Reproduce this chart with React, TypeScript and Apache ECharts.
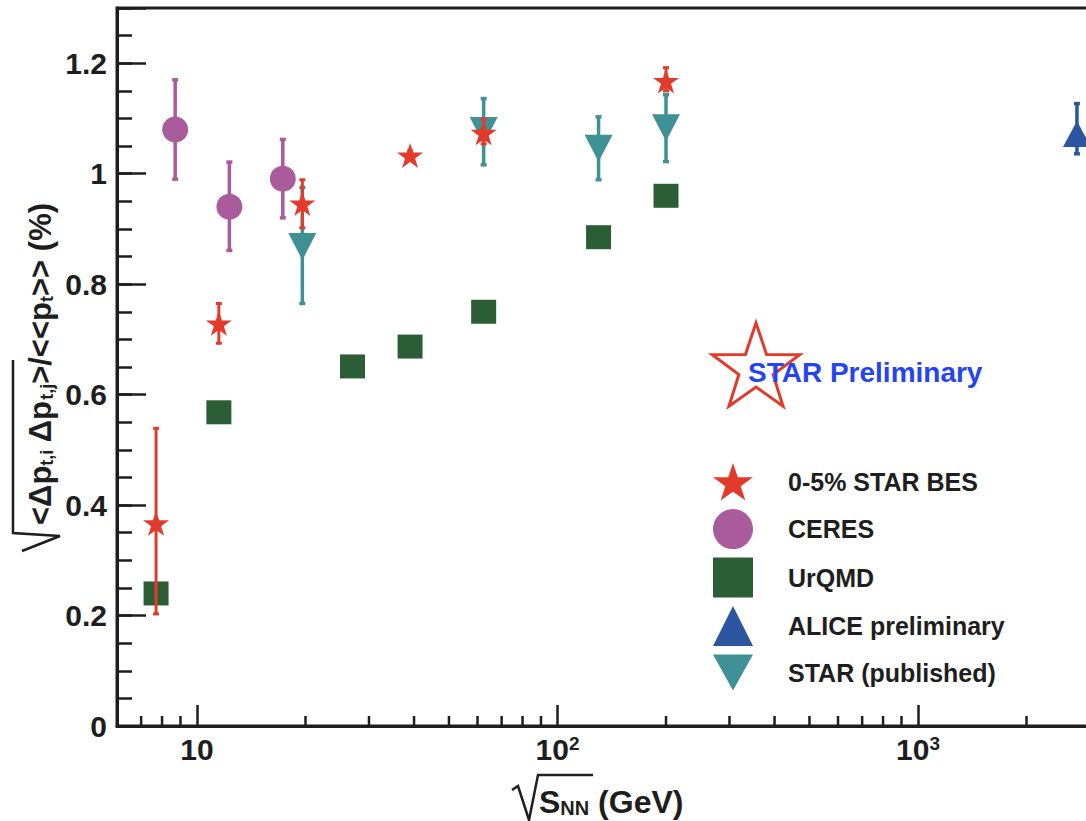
import React, { useEffect, useRef } from 'react';
import * as echarts from 'echarts';

// ---------- data ----------
const starBesEnergy = [7.7, 11.5, 19.6, 39, 62.4, 200];
const starBesValue = [0.367, 0.729, 0.946, 1.033, 1.074, 1.168];
const starBesLow = [0.203, 0.693, 0.902, 1.025, 1.054, 1.150];
const starBesHigh = [0.539, 0.765, 0.989, 1.041, 1.099, 1.192];

const ceresEnergy = [8.7, 12.3, 17.3];
const ceresValue = [1.080, 0.940, 0.991];
const ceresLow = [0.990, 0.861, 0.920];
const ceresHigh = [1.170, 1.021, 1.062];

const urqmdEnergy = [7.7, 11.5, 27, 39, 62.4, 130, 200];
const urqmdValue = [0.240, 0.568, 0.651, 0.687, 0.750, 0.885, 0.960];

const aliceEnergy = [2760];
const aliceValue = [1.072];
const aliceLow = [1.036];
const aliceHigh = [1.127];

const starPubEnergy = [19.6, 62.4, 130, 200];
const starPubValue = [0.868, 1.078, 1.046, 1.083];
const starPubLow = [0.765, 1.016, 0.989, 1.022];
const starPubHigh = [0.975, 1.136, 1.103, 1.143];

const seriesNames = ['0-5% STAR BES', 'CERES', 'UrQMD', 'ALICE preliminary', 'STAR (published)'];
const xMinorTicks = [7, 8, 9, 20, 30, 40, 50, 60, 70, 80, 90, 200, 300, 400, 500, 600, 700, 800, 900, 2000, 3000];

// ---------- style ----------
const FONT = "'Liberation Sans', Arial, Helvetica, sans-serif";
const INK = '#1e1e1e';
const RED = '#e23b2c';
const PURPLE = '#a95b9b';
const GREEN = '#2c5e35';
const BLUE = '#2d56a0';
const TEAL = '#3f9195';

const STAR_PATH = 'path://M50,0 L61.8,35.1 L98.9,35.1 L68.9,56.8 L80.3,91.9 L50,70.2 L19.7,91.9 L31.1,56.8 L1.1,35.1 L38.2,35.1 Z';
const DOWN_TRI = 'path://M0,0 L100,0 L50,90 Z';

function pairs(xs: number[], ys: number[]) {
  return xs.map((x, i) => [x, ys[i]]);
}
function triples(xs: number[], lo: number[], hi: number[]) {
  return xs.map((x, i) => [x, lo[i], hi[i]]);
}

function errorSeries(name: string, data: number[][], color: string, lw: number, z: number) {
  return {
    type: 'custom',
    name,
    z,
    xAxisIndex: 0,
    yAxisIndex: 0,
    encode: { x: 0, y: [1, 2] },
    data,
    silent: true,
    renderItem: (params: any, api: any) => {
      const x = api.value(0);
      const p1 = api.coord([x, api.value(1)]);
      const p2 = api.coord([x, api.value(2)]);
      const c = 3;
      const st = { stroke: color, lineWidth: lw };
      return {
        type: 'group',
        children: [
          { type: 'line', shape: { x1: p1[0], y1: p1[1], x2: p2[0], y2: p2[1] }, style: st },
          { type: 'line', shape: { x1: p1[0] - c, y1: p1[1], x2: p1[0] + c, y2: p1[1] }, style: st },
          { type: 'line', shape: { x1: p2[0] - c, y1: p2[1], x2: p2[0] + c, y2: p2[1] }, style: st },
        ],
      };
    },
  };
}

function starPoints(cx: number, cy: number, R: number, r: number) {
  const pts: number[][] = [];
  for (let i = 0; i < 10; i++) {
    const a = -Math.PI / 2 + (i * Math.PI) / 5;
    const rad = i % 2 === 0 ? R : r;
    pts.push([cx + rad * Math.cos(a), cy + rad * Math.sin(a)]);
  }
  return pts;
}

export default function App() {
  const ref = useRef<HTMLDivElement>(null);
  useEffect(() => {
    document.body.style.margin = '0';
    const chart = echarts.init(ref.current as HTMLDivElement, null, { renderer: 'svg' });
    const option: any = {
      animation: false,
      backgroundColor: '#ffffff',
      textStyle: { fontFamily: FONT },
      grid: {
        left: 117,
        top: 8,
        right: -4,
        bottom: 95,
        show: true,
        borderColor: INK,
        borderWidth: 3,
        backgroundColor: 'transparent',
        outerBoundsMode: 'none',
      },
      legend: {
        orient: 'vertical',
        left: 713,
        top: 463,
        padding: 0,
        itemWidth: 40,
        itemHeight: 40,
        itemGap: 8.5,
        selectedMode: false,
        textStyle: { fontFamily: FONT, fontSize: 25, fontWeight: 'bold', color: INK, padding: [0, 0, 0, 30] },
        data: [
          { name: seriesNames[0], icon: STAR_PATH },
          { name: seriesNames[1], icon: 'circle' },
          { name: seriesNames[2], icon: 'rect' },
          { name: seriesNames[3], icon: 'triangle' },
          { name: seriesNames[4], icon: DOWN_TRI },
        ],
      },
      xAxis: {
        type: 'log',
        logBase: 10,
        min: 6,
        max: 3000,
        axisLine: { show: true, lineStyle: { color: INK, width: 3 } },
        axisTick: { show: true, inside: true, length: 21, lineStyle: { color: INK, width: 2.5 } },
        splitLine: { show: false },
        axisLabel: {
          margin: 8,
          fontFamily: FONT,
          fontSize: 30,
          fontWeight: 'bold',
          color: INK,
          showMinLabel: false,
          showMaxLabel: false,
          formatter: (v: number) => {
            const l = Math.log10(v);
            const e = Math.round(l);
            if (Math.abs(l - e) > 1e-6) return '';
            if (e === 1) return '10';
            return '10{sup|' + e + '}';
          },
          rich: {
            sup: { fontFamily: FONT, fontSize: 19, fontWeight: 'bold', color: INK, verticalAlign: 'top', lineHeight: 16 },
          },
        },
      },
      yAxis: [
        {
          type: 'value',
          position: 'left',
          min: 0,
          max: 1.3,
          interval: 0.2,
          axisLine: { show: true, lineStyle: { color: INK, width: 3 } },
          axisTick: { show: true, inside: true, length: 29, lineStyle: { color: INK, width: 2.5 } },
          splitLine: { show: false },
          axisLabel: {
            margin: 10,
            fontFamily: FONT,
            fontSize: 30,
            fontWeight: 'bold',
            color: INK,
            formatter: (v: number) => (v > 1.25 ? '' : String(Math.round(v * 10) / 10)),
          },
        },
        {
          type: 'value',
          position: 'left',
          offset: 0,
          min: 0,
          max: 1.3,
          interval: 0.05,
          axisLine: { show: false },
          axisTick: { show: true, inside: true, length: 15, lineStyle: { color: INK, width: 2.5 } },
          splitLine: { show: false },
          axisLabel: { show: false },
        },
      ],
      series: [
        {
          type: 'custom',
          name: 'xminor',
          silent: true,
          z: 1,
          data: xMinorTicks.map((v) => [v, 0]),
          encode: { x: 0, y: 1 },
          renderItem: (params: any, api: any) => {
            const p = api.coord([api.value(0), 0]);
            return {
              type: 'line',
              shape: { x1: p[0], y1: p[1], x2: p[0], y2: p[1] - 10 },
              style: { stroke: INK, lineWidth: 2.5 },
            };
          },
        },
        {
          type: 'scatter',
          name: seriesNames[2],
          z: 2,
          symbol: 'rect',
          symbolSize: [25, 24],
          itemStyle: { color: GREEN, opacity: 1 },
          data: pairs(urqmdEnergy, urqmdValue),
        },
        errorSeries('pub-err', triples(starPubEnergy, starPubLow, starPubHigh), TEAL, 3.5, 3),
        {
          type: 'scatter',
          name: seriesNames[4],
          z: 4,
          symbol: DOWN_TRI,
          symbolSize: [28, 27],
          itemStyle: { color: TEAL, opacity: 1 },
          data: pairs(starPubEnergy, starPubValue),
        },
        errorSeries('ceres-err', triples(ceresEnergy, ceresLow, ceresHigh), PURPLE, 3.5, 3),
        {
          type: 'scatter',
          name: seriesNames[1],
          z: 4,
          symbol: 'circle',
          symbolSize: 26,
          itemStyle: { color: PURPLE, opacity: 1 },
          data: pairs(ceresEnergy, ceresValue),
        },
        errorSeries('alice-err', triples(aliceEnergy, aliceLow, aliceHigh), BLUE, 3.5, 3),
        {
          type: 'scatter',
          name: seriesNames[3],
          z: 4,
          symbol: 'triangle',
          symbolSize: [28, 26],
          itemStyle: { color: BLUE, opacity: 1 },
          data: pairs(aliceEnergy, aliceValue),
        },
        errorSeries('bes-err', triples(starBesEnergy, starBesLow, starBesHigh), RED, 3, 5),
        {
          type: 'scatter',
          name: seriesNames[0],
          z: 6,
          symbol: STAR_PATH,
          symbolSize: [26, 25],
          itemStyle: { color: RED, opacity: 1 },
          data: pairs(starBesEnergy, starBesValue),
        },
      ],
      graphic: [
        {
          type: 'polygon',
          z: 10,
          shape: { points: starPoints(756, 369, 46, 18) },
          style: { fill: 'rgba(0,0,0,0)', stroke: RED, lineWidth: 3 },
        },
        {
          type: 'text',
          z: 11,
          x: 748,
          y: 372,
          style: {
            text: 'STAR Preliminary',
            font: "bold 28px 'Liberation Sans', Arial, sans-serif",
            fill: '#2444f2',
            align: 'left',
            verticalAlign: 'middle',
          },
        },
        // x-axis title
        {
          type: 'polyline',
          z: 10,
          shape: { points: [[512, 790], [518, 786], [529, 820], [538, 775], [593, 775]] },
          style: { fill: 'none', stroke: INK, lineWidth: 2.5 },
        },
        {
          type: 'text',
          z: 10,
          x: 539,
          y: 802,
          style: {
            text: '{a|S}{b|NN}{a| (GeV)}',
            align: 'left',
            verticalAlign: 'middle',
            rich: {
              a: { fontFamily: FONT, fontSize: 32, fontWeight: 'bold', fill: INK, color: INK, verticalAlign: 'middle' },
              b: { fontFamily: FONT, fontSize: 20, fontWeight: 'bold', fill: INK, color: INK, verticalAlign: 'bottom', padding: [0, 0, 0, 0] },
            },
          },
        },
        // y-axis title
        {
          type: 'polyline',
          z: 10,
          shape: { points: [[22, 551], [60, 536], [13, 533], [13, 360]] },
          style: { fill: 'none', stroke: INK, lineWidth: 2.5 },
        },
        {
          type: 'text',
          z: 10,
          x: 40,
          y: 525,
          rotation: Math.PI / 2,
          style: {
            text: '{a|<Δp}{b|t,i}{a| Δp}{b|t,j}{a|>/<<p}{b|t}{a|>> (%)}',
            align: 'left',
            verticalAlign: 'middle',
            rich: {
              a: { fontFamily: FONT, fontSize: 31, fontWeight: 'bold', fill: INK, color: INK, verticalAlign: 'middle' },
              b: { fontFamily: FONT, fontSize: 18, fontWeight: 'bold', fill: INK, color: INK, verticalAlign: 'bottom' },
            },
          },
        },
      ],
    };
    chart.setOption(option);
    return () => chart.dispose();
  }, []);
  return <div ref={ref} style={{ width: 1086, height: 821 }} />;
}
